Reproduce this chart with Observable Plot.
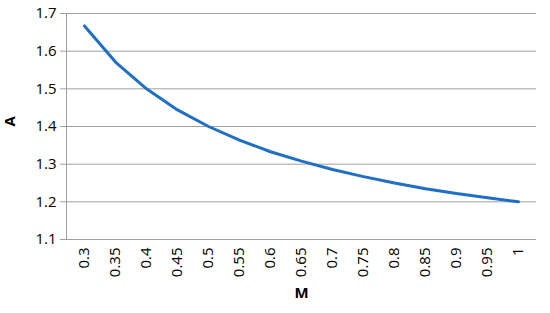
<!DOCTYPE html>
<html><head><meta charset="utf-8">
<script src="https://cdn.jsdelivr.net/npm/d3@7"></script>
<script src="https://cdn.jsdelivr.net/npm/@observablehq/plot@0.6"></script>
<style>body{margin:0;background:#fff}</style>
</head><body><div id="chart"></div>
<script>
const M = ["0.3","0.35","0.4","0.45","0.5","0.55","0.6","0.65","0.7","0.75","0.8","0.85","0.9","0.95","1"];
const A = [1.667,1.571,1.5,1.444,1.4,1.364,1.333,1.308,1.286,1.267,1.25,1.235,1.222,1.211,1.2];
const yTicks = [1.1,1.2,1.3,1.4,1.5,1.6,1.7];
const data = M.map((m,i)=>({M:m, A:A[i]}));
const font = "Open Sans, sans-serif";
const chart = Plot.plot({
  width:550, height:313,
  marginLeft:66, marginRight:14, marginTop:13, marginBottom:74,
  style:{fontFamily:font, fontSize:"14px", color:"#000", background:"#fff"},
  x:{type:"point", domain:M, padding:0.5, label:null},
  y:{domain:[1.1,1.7], label:null},
  marks:[
    Plot.gridY(yTicks,{stroke:"#a0a0a0", strokeOpacity:1, strokeWidth:1}),
    Plot.frame({anchor:"left", stroke:"#a0a0a0"}),
    Plot.axisY(yTicks,{tickSize:6, tickPadding:4, stroke:"#a0a0a0", tickFormat:d=>d.toFixed(1), fontSize:15, label:null}),
    Plot.axisX({tickSize:0, tickRotate:-90, tickPadding:8, fontSize:15, label:null}),
    Plot.line(data,{x:"M", y:"A", stroke:"#1f6fc4", strokeWidth:3}),
    Plot.text(["A"],{frameAnchor:"left", dx:-56, rotate:-90, fontWeight:"bold", fontSize:15}),
    Plot.text(["M"],{frameAnchor:"bottom", dy:58, fontWeight:"bold", fontSize:15})
  ]
});
document.getElementById("chart").append(chart);
</script></body></html>
